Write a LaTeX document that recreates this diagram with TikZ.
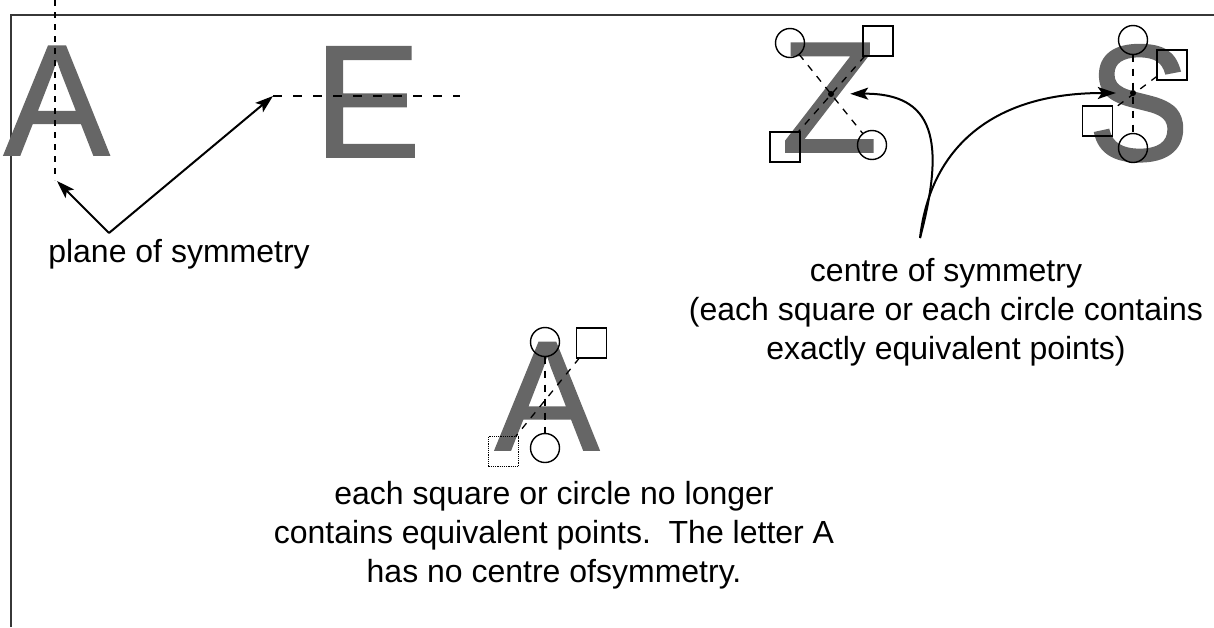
\documentclass[tikz,border=0pt]{standalone}
\usepackage{fontspec}
\setmainfont{Liberation Sans}
\newfontfamily\letterfont[FakeBold=1.2]{Liberation Sans}
\usetikzlibrary{arrows.meta}
\definecolor{lettergray}{RGB}{102,102,102}
\definecolor{framegray}{RGB}{55,55,55}
\begin{document}
\begin{tikzpicture}[x=1pt,y=-1pt,
  bigletter/.style={inner sep=0pt, outer sep=0pt, anchor=base west, text=lettergray},
  lbl/.style={inner sep=0pt, outer sep=0pt, font=\fontsize{32}{39}\selectfont, align=center},
  ring/.style={circle, draw, line width=1.4pt, minimum size=29pt, inner sep=0pt, outer sep=0pt},
  sqbox/.style={rectangle, draw, line width=1.2pt, minimum size=30pt, inner sep=0pt, outer sep=0pt},
  guide/.style={line width=1.3pt, dash pattern=on 7pt off 7pt},
  axisline/.style={line width=1.6pt, dash pattern=on 6pt off 6pt},
  pointer/.style={-{Stealth[length=18pt,width=12pt,inset=4pt]}, line width=2pt},
  centerdot/.style={circle, fill, inner sep=0pt, minimum size=6pt},
  frameline/.style={line width=1.5pt, draw=framegray}
  ]
\useasboundingbox (0,0) rectangle (1214,627);
% frame
\coordinate (fbl) at (11,627);
\coordinate (ftl) at (11,15);
\coordinate (ftr) at (1214,15);
\draw[frameline] (fbl) -- (ftl) -- (ftr);

% plane of symmetry: A and E
\node[bigletter, font=\letterfont\fontsize{158}{158}\selectfont] (letA) at (4,155) {A};
\node[bigletter, font=\letterfont\fontsize{160}{160}\selectfont] (letE) at (314,157) {E};
\coordinate (vtop) at (55,0);
\coordinate (vbot) at (55,180);
\draw[axisline] (vtop) -- (vbot);
\coordinate (apex) at (109,233);
\coordinate (tipA) at (57,181);
\coordinate (tipE) at (273,96);
\coordinate (hend) at (460,96);
\draw[line width=2pt, dash pattern=on 9pt off 11pt] (tipE) -- (hend);
\draw[pointer] (apex) -- (tipA);
\draw[pointer] (apex) -- (tipE);
\node[lbl, anchor=base] (plane) at (179,262) {plane of symmetry};

% Z
\node[bigletter, font=\letterfont\fontsize{158}{158}\selectfont] (letZ) at (781,152) {Z};
\node[ring] (zr1) at (790,43) {};
\node[ring] (zr2) at (872,145) {};
\node[sqbox] (zq1) at (878,41) {};
\node[sqbox] (zq2) at (785,147) {};
\draw[guide] (zr1) -- (zr2);
\draw[guide] (zq1) -- (zq2);
\node[centerdot] (zc) at (831,94) {};

% S
\node[bigletter, font=\letterfont\fontsize{165}{165}\selectfont] (letS) at (1088,160) {\scalebox{0.92}[1]{S}};
\node[ring] (sr1) at (1133,40) {};
\node[ring] (sr2) at (1133,148) {};
\node[sqbox] (sq1) at (1172,65) {};
\node[sqbox] (sq2) at (1097.5,121) {};
\draw[guide] (sr1) -- (sr2);
\draw[guide] (sq1) -- (sq2);
\node[centerdot] (sc) at (1133,93) {};

% arrows from centre label
\coordinate (src) at (920,238);
\draw[pointer, shorten >=16pt] (src) .. controls (946,140) and (934,93) .. (zc);
\draw[pointer, shorten >=14pt] (src) .. controls (930,150) and (990,93) .. (sc);
\node[lbl] (centre) at (946,312) {centre of symmetry\\(each square or each circle contains\\exactly equivalent points)};

% middle A
\node[bigletter, font=\letterfont\fontsize{156}{156}\selectfont] (letA2) at (495,450) {A};
\node[ring] (ar1) at (545,342) {};
\node[ring] (ar2) at (545,448) {};
\node[sqbox] (aq1) at (591.5,343) {};
\node[sqbox, densely dotted] (aq2) at (503.5,451.5) {};
\draw[guide] (ar1) -- (ar2);
\draw[guide] (aq1) -- (aq2);
\node[lbl] (nocentre) at (554,535) {each square or circle no longer\\contains equivalent points.\ \ The letter A\\has no centre ofsymmetry.};
\end{tikzpicture}
\end{document}
